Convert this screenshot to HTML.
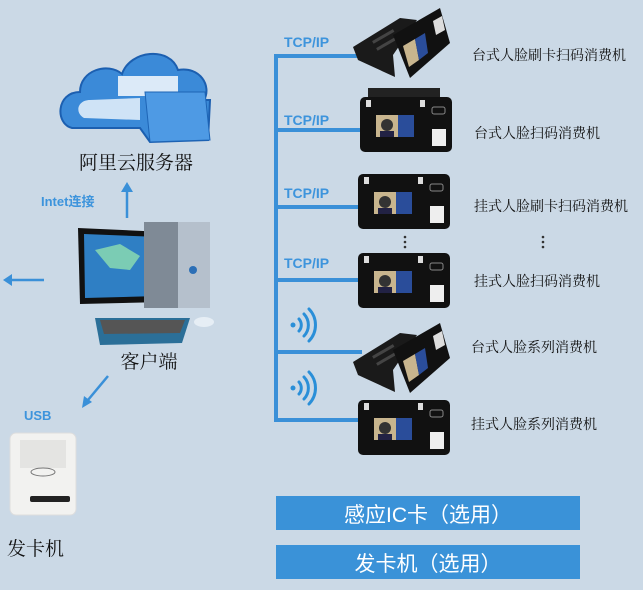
<!DOCTYPE html>
<html><head><meta charset="utf-8"><style>
html,body{margin:0;padding:0;background:#cbd9e6;}
svg{display:block}
.cn{font-family:"Liberation Serif","Noto Serif CJK SC",serif;fill:#111;}
.lb{font-family:"Liberation Sans","Noto Sans CJK SC",sans-serif;font-weight:bold;fill:#3d94dc;}
</style></head><body>
<svg width="643" height="590" viewBox="0 0 643 590" xmlns="http://www.w3.org/2000/svg">
<defs>
<g id="wall">
 <rect x="0" y="0" width="92" height="55" rx="5" fill="#111"/>
 <rect x="6" y="3" width="5" height="7" fill="#ddd"/><rect x="60" y="3" width="5" height="7" fill="#ddd"/>
 <rect x="16" y="18" width="22" height="22" fill="#c8b58e"/><circle cx="27" cy="28" r="6" fill="#333"/><rect x="20" y="34" width="14" height="6" fill="#224"/>
 <rect x="38" y="18" width="16" height="22" fill="#2a4d9a"/>
 <rect x="72" y="32" width="14" height="17" fill="#eee"/><rect x="72" y="10" width="13" height="7" rx="2" fill="none" stroke="#888"/>
</g>
<g id="desk">
 <polygon points="0,42 47,13 64,15 40,50 42,72 5,55" fill="#1a1a1a"/>
 <g fill="#444"><rect x="18" y="30" width="24" height="3" transform="rotate(-30 30 31)"/><rect x="22" y="37" width="24" height="3" transform="rotate(-30 34 38)"/></g>
 <polygon points="40,30 87,3 97,38 57,73" fill="#111"/>
 <polygon points="50,41 62,34 66,55 56,62" fill="#c8b58e"/>
 <polygon points="62,34 72,28 75,48 66,55" fill="#2a4d9a"/>
 <polygon points="80,16 89,11 92,25 83,30" fill="#ddd"/>
</g>
<g id="wifi" fill="none" stroke="#2a8fd8" stroke-width="3" stroke-linecap="round">
 <circle cx="0" cy="0" r="2.5" fill="#2a8fd8" stroke="none"/>
 <path d="M6,-6 A9,9 0 0 1 6,6"/><path d="M11,-11 A16,16 0 0 1 11,11"/><path d="M16,-16 A23,23 0 0 1 16,16"/>
</g>
</defs>

<!-- bus -->
<g stroke="#3a90d8" stroke-width="4" fill="none">
 <path d="M276,56 V422"/>
 <path d="M274,56 H362"/><path d="M274,130 H362"/><path d="M274,207 H362"/><path d="M274,280 H362"/><path d="M274,352 H362"/><path d="M274,420 H362"/>
</g>
<text class="lb" x="284" y="47" font-size="14">TCP/IP</text>
<text class="lb" x="284" y="125" font-size="14">TCP/IP</text>
<text class="lb" x="284" y="198" font-size="14">TCP/IP</text>
<text class="lb" x="284" y="268" font-size="14">TCP/IP</text>
<use href="#wifi" x="293" y="325"/>
<use href="#wifi" x="293" y="388"/>

<!-- devices -->
<use href="#desk" x="353" y="5"/>
<rect x="368" y="88" width="72" height="12" fill="#222"/>
<use href="#wall" x="360" y="97"/>
<use href="#wall" x="358" y="174"/>
<use href="#wall" x="358" y="253"/>
<use href="#desk" x="353" y="320"/>
<use href="#wall" x="358" y="400"/>
<g fill="#333"><circle cx="405" cy="237" r="1.3"/><circle cx="405" cy="242" r="1.3"/><circle cx="405" cy="247" r="1.3"/>
<circle cx="543" cy="237" r="1.3"/><circle cx="543" cy="242" r="1.3"/><circle cx="543" cy="247" r="1.3"/></g>

<text class="cn" x="472" y="60" font-size="14">台式人脸刷卡扫码消费机</text>
<text class="cn" x="474" y="138" font-size="14">台式人脸扫码消费机</text>
<text class="cn" x="474" y="211" font-size="14">挂式人脸刷卡扫码消费机</text>
<text class="cn" x="474" y="286" font-size="14">挂式人脸扫码消费机</text>
<text class="cn" x="471" y="352" font-size="14">台式人脸系列消费机</text>
<text class="cn" x="471" y="429" font-size="14">挂式人脸系列消费机</text>

<!-- bars -->
<rect x="276" y="496" width="304" height="34" fill="#3a92d8"/>
<rect x="276" y="545" width="304" height="34" fill="#3a92d8"/>
<text x="428" y="522" font-size="21" fill="#fff" text-anchor="middle" font-family="Liberation Sans,Noto Sans CJK SC,sans-serif">感应IC卡（选用）</text>
<text x="428" y="571" font-size="21" fill="#fff" text-anchor="middle" font-family="Liberation Sans,Noto Sans CJK SC,sans-serif">发卡机（选用）</text>

<!-- cloud -->
<path d="M72,128 C55,124 56,92 80,92 C80,70 108,62 122,74 C130,50 170,46 178,70 C200,66 212,86 204,100 L210,100 L208,140 L150,142 L140,128 Z" fill="#3b8ad8" stroke="#1c5fb0" stroke-width="2"/>
<path d="M84,118 C74,112 78,100 90,100 L140,98 L140,120 Z" fill="#cfe3f6"/>
<rect x="118" y="76" width="60" height="20" fill="#dceaf8"/>
<polygon points="145,92 205,92 210,140 150,142" fill="#4e9ae4" stroke="#1d64b5"/>
<text class="cn" x="136" y="169" font-size="19" text-anchor="middle">阿里云服务器</text>

<!-- arrows -->
<g stroke="#3a90d8" stroke-width="2.5" fill="#3a90d8">
 <line x1="127" y1="218" x2="127" y2="190"/><polygon points="121,192 127,182 133,192" stroke="none"/>
 <line x1="44" y1="280" x2="10" y2="280"/><polygon points="12,274 3,280 12,286" stroke="none"/>
 <line x1="108" y1="376" x2="88" y2="400"/><polygon points="82,408 84,396 92,402" stroke="none"/>
</g>
<text class="lb" x="41" y="206" font-size="13">Intet连接</text>
<text class="lb" x="24" y="420" font-size="13">USB</text>

<!-- computer -->
<polygon points="78,228 165,232 164,302 80,304" fill="#111"/>
<polygon points="84,234 160,237 159,296 85,298" fill="#2f7fc4"/>
<path d="M95,250 L120,244 L140,256 L130,270 L110,268 Z" fill="#8fe0b0" opacity=".8"/>
<rect x="144" y="222" width="66" height="86" fill="#7f8a96"/>
<rect x="178" y="222" width="32" height="86" fill="#b5c0cc"/>
<circle cx="193" cy="270" r="4" fill="#2c6fb6"/>
<polygon points="95,318 190,318 182,343 100,345" fill="#2b6f98"/>
<polygon points="100,320 185,320 180,333 104,334" fill="#555"/>
<ellipse cx="204" cy="322" rx="10" ry="5" fill="#e6eef5"/>
<text class="cn" x="149" y="368" font-size="19" text-anchor="middle">客户端</text>

<!-- card dispenser -->
<rect x="10" y="433" width="66" height="82" rx="6" fill="#f2f2f0" stroke="#ddd"/>
<rect x="20" y="440" width="46" height="28" fill="#e4e4e2"/>
<ellipse cx="43" cy="472" rx="12" ry="4" fill="none" stroke="#777"/>
<rect x="30" y="496" width="40" height="6" rx="2" fill="#222"/>
<text class="cn" x="7" y="555" font-size="19">发卡机</text>
</svg>
</body></html>
